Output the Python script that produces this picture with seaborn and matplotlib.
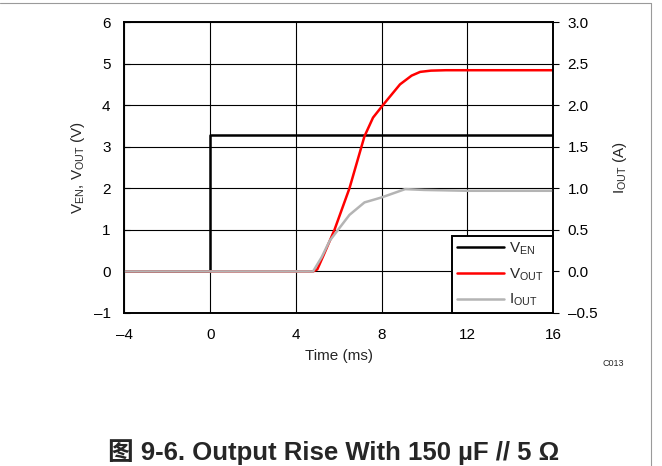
import matplotlib
matplotlib.use("Agg")
import matplotlib.pyplot as plt
from matplotlib.lines import Line2D
import seaborn as sns
import pandas as pd

# 데이터
ven_t = [-4, 0, 0, 16]
ven_v = [0, 0, 3.27, 3.27]

vout_t = [-4, 4.8, 5.0, 5.3, 5.8, 6.5, 7.2, 7.6, 8.06, 8.86, 9.4, 9.8, 10.3, 11, 16]
vout_v = [0, 0, 0.05, 0.4, 1.0, 2.0, 3.25, 3.7, 4.0, 4.5, 4.71, 4.80, 4.83, 4.84, 4.84]

iout_t = [-4, 4.8, 5.2, 5.58, 6.5, 7.2, 8.0, 9.1, 10, 12, 16]
iout_a = [0, 0, 0.17, 0.37, 0.68, 0.83, 0.89, 0.99, 0.98, 0.97, 0.97]

x_ticks = [-4, 0, 4, 8, 12, 16]
left_ticks = [-1, 0, 1, 2, 3, 4, 5, 6]
right_ticks = [-0.5, 0.0, 0.5, 1.0, 1.5, 2.0, 2.5, 3.0]

sns.set_style("white")
plt.rcParams["font.family"] = ["Liberation Sans", "Noto Sans CJK SC", "DejaVu Sans"]
plt.rcParams["mathtext.fontset"] = "custom"
plt.rcParams["mathtext.rm"] = "Liberation Sans"
plt.rcParams["mathtext.it"] = "Liberation Sans:italic"

fig = plt.figure(figsize=(6.62, 4.66), dpi=100)
ax = fig.add_axes([124.5 / 662, 1 - 313 / 466, 428.5 / 662, 291 / 466])
ax2 = ax.twinx()

ven = pd.DataFrame({"t": ven_t, "v": ven_v})
vout = pd.DataFrame({"t": vout_t, "v": vout_v})
iout = pd.DataFrame({"t": iout_t, "i": iout_a})

# 선 그리기
sns.lineplot(data=ven, x="t", y="v", ax=ax, color="black", lw=1.8, sort=False,
             estimator=None, legend=False)
sns.lineplot(data=vout, x="t", y="v", ax=ax, color="#ff0000", lw=1.8, sort=False,
             estimator=None, legend=False)
sns.lineplot(data=iout, x="t", y="i", ax=ax2, color="#b4b4b4", lw=1.8, sort=False,
             estimator=None, legend=False)

ax.set_xlim(-4, 16)
ax.set_ylim(-1, 6)
ax2.set_ylim(-0.5, 3.0)
ax.set_xticks(x_ticks)
ax.set_yticks(left_ticks)
ax2.set_yticks(right_ticks)
ax.set_xticklabels([str(v).replace("-", "\u2013") for v in x_ticks])
ax.set_yticklabels([str(v).replace("-", "\u2013") for v in left_ticks])
ax2.set_yticklabels([f"{v:.1f}".replace("-", "\u2013") for v in right_ticks])

ax.grid(True, color="black", lw=0.8)
ax.set_axisbelow(True)
for a in (ax, ax2):
    for s in a.spines.values():
        s.set_color("black")
        s.set_linewidth(1.2)

ax.tick_params(axis="x", direction="in", length=4, labelsize=11, pad=10.5, colors="black")
ax.tick_params(axis="y", direction="in", length=4, labelsize=11, pad=10, colors="black")
ax2.tick_params(axis="y", direction="out", length=4, labelsize=11, pad=6.5, colors="black")

ax.set_xlabel("Time (ms)", fontsize=11, labelpad=5)
ax.set_ylabel(r"V$_{\mathrm{EN}}$, V$_{\mathrm{OUT}}$ (V)", fontsize=11, labelpad=5)
ax2.set_ylabel(r"I$_{\mathrm{OUT}}$ (A)", fontsize=11, labelpad=10, rotation=90)

handles = [Line2D([], [], color="black", lw=1.8),
           Line2D([], [], color="#ff0000", lw=1.8),
           Line2D([], [], color="#b4b4b4", lw=1.8)]
labels = [r"V$_{\mathrm{EN}}$  ", r"V$_{\mathrm{OUT}}$  ", r"I$_{\mathrm{OUT}}$  "]
leg = ax2.legend(handles, labels, loc="lower right", borderaxespad=0,
                 fontsize=11, frameon=True, fancybox=False, framealpha=1,
                 edgecolor="black", handlelength=3.1, labelspacing=0.62,
                 borderpad=0.3, handletextpad=0.3)
leg.get_frame().set_linewidth(1.4)

# 바깥 테두리 선
fig.add_artist(Line2D([0, 651 / 662], [1 - 3 / 466, 1 - 3 / 466], color="#9a9a9a", lw=0.8))
fig.add_artist(Line2D([651 / 662, 651 / 662], [0, 1 - 3 / 466], color="#9a9a9a", lw=0.8))

fig.text(613 / 662, 1 - 364 / 466, "C013", fontsize=6.5, ha="center", va="center")
fig.text(334 / 662, 1 / 466, "图 9-6. Output Rise With 150 µF // 5 Ω",
         fontsize=18.5, fontweight="bold", ha="center", va="bottom")

fig.savefig("out.png", dpi=100)
